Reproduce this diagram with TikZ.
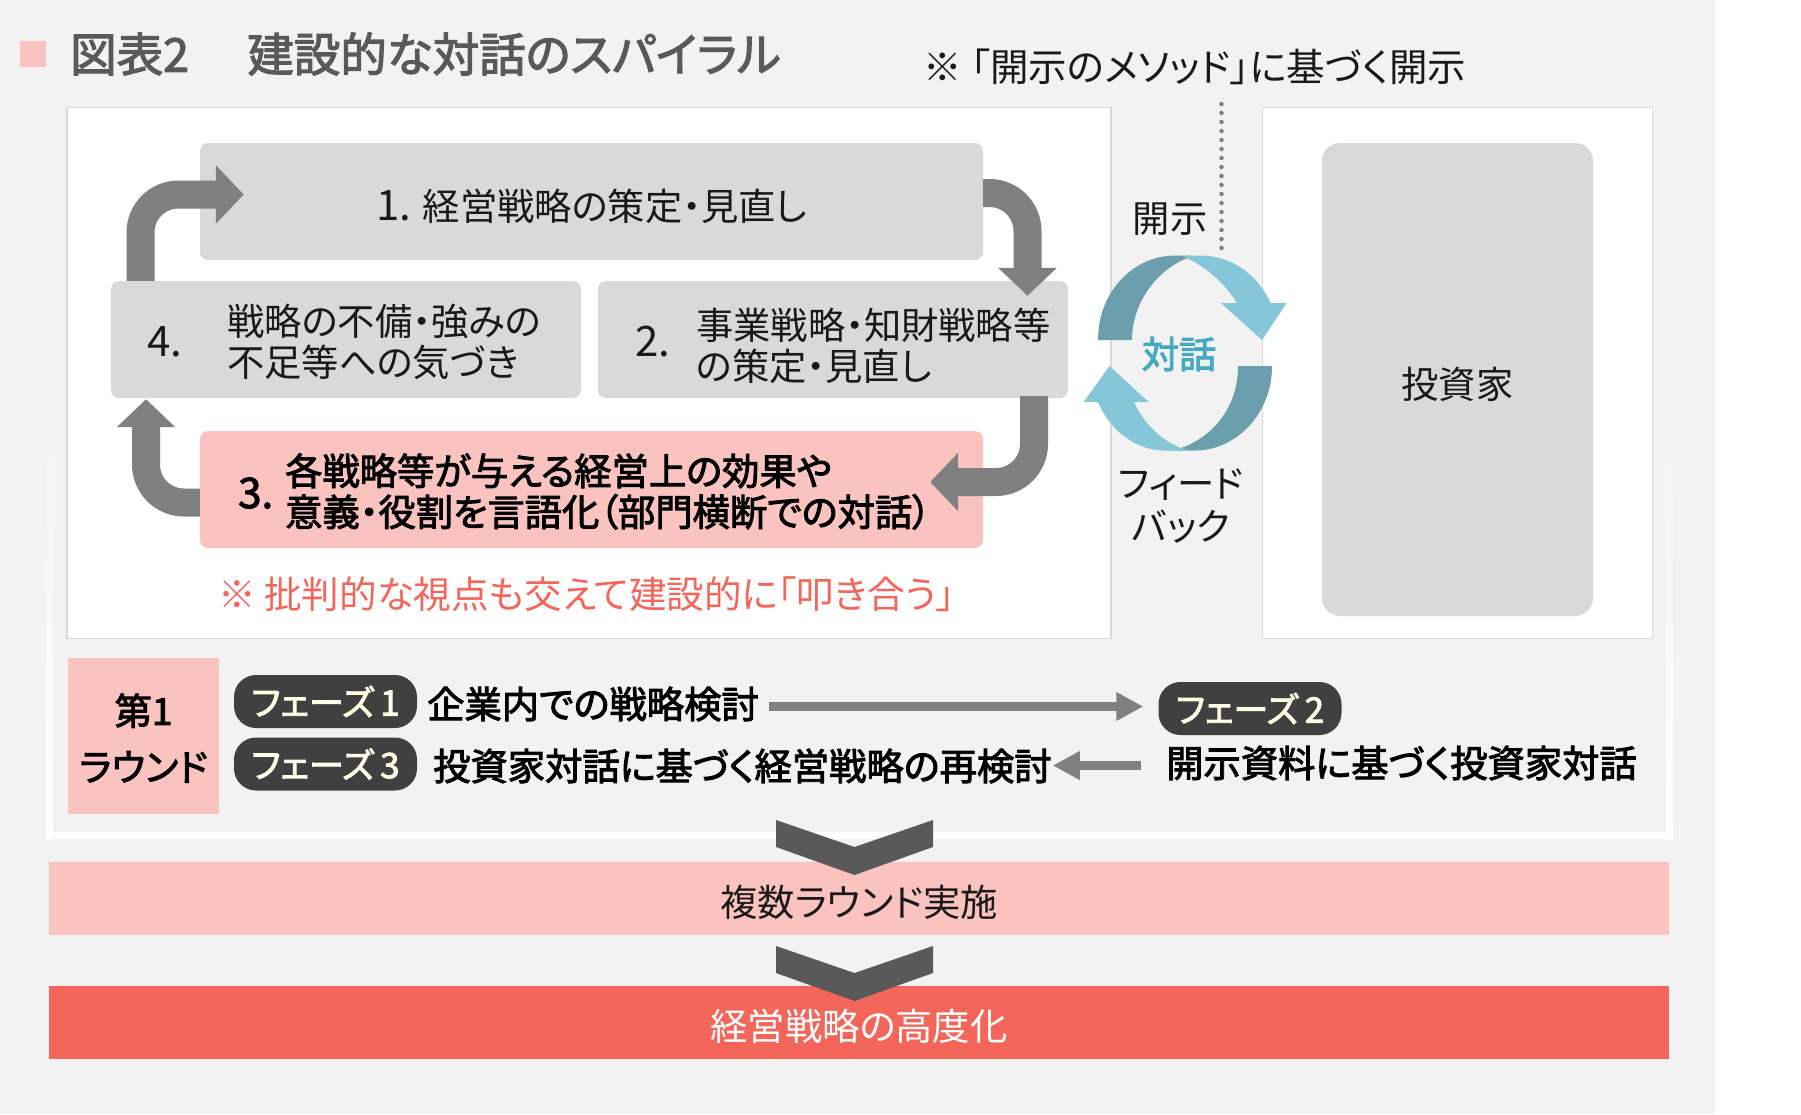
\documentclass[tikz,border=0pt]{standalone}
\usepackage{fontspec}
\setmainfont{Noto Sans CJK JP}[RawFeature={+palt}]
\newfontfamily\medfont{Noto Sans CJK JP}[RawFeature={+palt},FakeBold=2.5]
\usepackage{xcolor}
\usetikzlibrary{positioning,arrows.meta}
\definecolor{panelgray}{HTML}{F2F2F2}
\definecolor{boxgray}{HTML}{D9D9D9}
\definecolor{softred}{HTML}{FAC3BF}
\definecolor{strongred}{HTML}{F4665A}
\definecolor{darkteal}{HTML}{6B9FAD}
\definecolor{lightteal}{HTML}{85C6D8}
\definecolor{dialogblue}{HTML}{45A9C4}
\begin{document}
\begin{tikzpicture}[x=1pt,y=-1pt,
		   panel/.style={draw=black!15,line width=1.5pt,fill=white},
		   flowbox/.style={fill=boxgray,rounded corners=8pt,inner sep=0pt},
		   plainlabel/.style={inner sep=0pt,align=center,text=black!90,font=\fontsize{37.3}{41}\selectfont},
		   boldlabel/.style={inner sep=0pt,align=left,font=\medfont\fontsize{37.3}{41}\selectfont},
		   pill/.style={fill=black!75,text=white!90!yellow,rounded corners=22pt,inner sep=0pt,minimum width=183pt,minimum height=53pt,font=\medfont\fontsize{35}{36}\selectfont},
		   band/.style={inner sep=0pt,minimum width=1620pt,minimum height=73pt},
		   flowarrow/.style={draw=black!50,line width=28pt,rounded corners=38pt,-{Triangle[length=28pt,width=57pt]}},
		   phasearrow/.style={draw=black!50,line width=9pt,-{Triangle[length=27pt,width=27pt]}},
		   chevron/.style={fill=black!65}]

	% sheet and frame of the first round
	\fill[panelgray] (0,0) rectangle (1715,1114);
	\fill[white] (1715,0) rectangle (1801,1114);
	\shade[top color=panelgray,bottom color=white] (46,410) rectangle (53,839);
	\shade[top color=panelgray,bottom color=white] (1666,410) rectangle (1673,839);
	\fill[white] (46,832) rectangle (1673,839);

	\fill[softred] (20,41) rectangle (46,67);
	\node[anchor=west,inner sep=0pt,text=black!65,font=\medfont\fontsize{46.5}{48}\selectfont] (figno) at (70,54) {図表2};
	\node[right=58pt of figno,inner sep=0pt,text=black!65,font=\medfont\fontsize{46.5}{48}\selectfont] (figtitle) {建設的な対話のスパイラル};

	\node[panel,minimum width=1044pt,minimum height=531pt] (left) at (589,373) {};
	\node[panel,minimum width=390pt,minimum height=531pt] (right) at (1457.5,373) {};
	\node[flowbox,minimum width=271pt,minimum height=473pt,rounded corners=18pt] (investor) at (1457.5,379.5) {};
	\node[plainlabel] (investortext) at (1457.5,384) {投資家};

	\node[flowbox,minimum width=783pt,minimum height=117pt] (s1) at (591.5,201.5) {};
	\node[flowbox,minimum width=470pt,minimum height=117pt] (s4) at (346,339.5) {};
	\node[flowbox,minimum width=470pt,minimum height=117pt] (s2) at (833,339.5) {};
	\node[flowbox,fill=softred,minimum width=783pt,minimum height=117pt] (s3) at (591.5,489.5) {};

	\node[plainlabel] (t1) at (592,206) {{\fontsize{42}{41}\selectfont 1.} 経営戦略の策定・見直し};
	\node[plainlabel,anchor=west,font=\fontsize{42}{41}\selectfont] (n4) at (147,342) {4.};
	\node[plainlabel,anchor=west,align=left] (t4) at (227,342) {戦略の不備・強みの\\不足等への気づき};
	\node[plainlabel,anchor=west,font=\fontsize{42}{41}\selectfont] (n2) at (635,342) {2.};
	\node[plainlabel,anchor=west,align=left] (t2) at (696,346) {事業戦略・知財戦略等\\の策定・見直し};
	\node[boldlabel,anchor=west,font=\medfont\fontsize{42}{41}\selectfont] (n3) at (238,493) {3.};
	\node[boldlabel,anchor=west] (t3) at (285,491.5) {各戦略等が与える経営上の効果や\\意義・役割を言語化（部門横断での対話）};
	\node[plainlabel,anchor=west,text=strongred,font=\fontsize{37.6}{41}\selectfont] (critic) at (218,594) {※ 批判的な視点も交えて建設的に「叩き合う」};

	\draw[flowarrow] ([yshift=8.5pt]s1.east) -| ([xshift=194.5pt,yshift=-15pt]s2.north);
	\draw[flowarrow] ([xshift=201pt,yshift=2pt]s2.south) |- ([xshift=-53pt,yshift=7.5pt]s3.east);
	\draw[flowarrow] ([yshift=-13pt]s3.west) -| ([xshift=-200pt,yshift=-1pt]s4.south);
	\draw[flowarrow] ([xshift=-205.5pt]s4.north) |- ([xshift=44pt,yshift=7pt]s1.west);

	% dialogue between company and investors
	\coordinate (dotstart) at (1221.5,104);
	\coordinate (dotend) at (1221.5,252);
	\node[plainlabel,anchor=center,font=\fontsize{38.5}{41}\selectfont] (note) at (1195,66.5) {※ 「開示のメソッド」に基づく開示};
	\draw[black!50,line width=4.5pt,line cap=round,dash pattern=on 0pt off 9pt] (dotstart) -- (dotend);
	\fill[darkteal] (1098,340) .. controls (1098,290) and (1135,255.5) .. (1175,255.5) -- (1190,255.5) -- (1188,258) .. controls (1160,268) and (1132,300) .. (1132,340) -- cycle;
	\fill[lightteal] (1186,258) .. controls (1205,266) and (1226,284) .. (1236.6,303) -- (1221,303) -- (1262,340) -- (1286.6,303) -- (1270.6,303) .. controls (1258,275) and (1232,255.5) .. (1200,255.5) -- (1182,255.5) -- cycle;
	\fill[darkteal] (1272,366) .. controls (1272,415) and (1235,450.5) .. (1195,450.5) -- (1170,450.5) -- (1181,448) .. controls (1210,438) and (1238,410) .. (1238,366) -- cycle;
	\fill[lightteal] (1181,448) .. controls (1160,440) and (1143,422) .. (1134,402) -- (1148.7,402) -- (1109.4,366) -- (1083.7,402) -- (1098,402) .. controls (1110,430) and (1135,450.5) .. (1165,450.5) -- (1190,450.5) -- cycle;
	\node[plainlabel] (disclose) at (1170,219) {開示};
	\node[boldlabel,text=dialogblue] (dialog) at (1179,354) {対話};
	\node[plainlabel] (feedback) at (1181,506) {フィード\\[2pt]バック};

	% first round
	\node[fill=softred,inner sep=0pt,minimum width=151pt,minimum height=156pt] (round) at (143.5,736) {};
	\node[boldlabel,align=center,font=\medfont\fontsize{37.3}{56}\selectfont] (roundtext) at (143.5,738) {第1\\ラウンド};
	\node[pill] (ph1) at (325.5,701.5) {フェーズ\,1};
	\node[pill] (ph3) at (325.5,764) {フェーズ\,3};
	\node[pill] (ph2) at (1250,708.5) {フェーズ\,2};
	\node[boldlabel,anchor=west] (ph1text) at (427,704) {企業内での戦略検討};
	\node[boldlabel,anchor=west] (ph3text) at (433,766) {投資家対話に基づく経営戦略の再検討};
	\node[boldlabel,anchor=west] (ph2text) at (1166,763) {開示資料に基づく投資家対話};
	\draw[phasearrow] ([xshift=10pt]ph1text.east |- 0,706.5) -- ([xshift=-15pt]ph2.west |- 0,706.5);
	\draw[phasearrow] ([xshift=-25pt]ph2text.west |- 0,765.5) -- ([xshift=1pt]ph3text.east |- 0,765.5);

	\node[band,fill=softred] (rounds) at (859,898) {};
	\node[band,fill=strongred] (result) at (859,1022.5) {};
	\node[plainlabel] (roundstext) at (859,902.5) {複数ラウンド実施};
	\node[plainlabel,text=white] (resulttext) at (859,1026) {経営戦略の高度化};
	\foreach \top in {820,946} {
		\fill[chevron] (776,\top) -- (854.5,\top+27) -- (933,\top) -- (933,\top+27) -- (854.5,\top+55) -- (776,\top+27) -- cycle;
	}
\end{tikzpicture}
\end{document}
